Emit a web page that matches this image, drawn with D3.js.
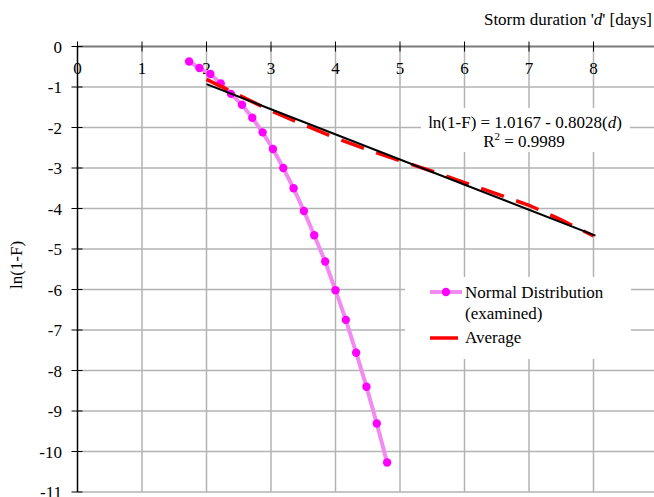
<!DOCTYPE html>
<html><head><meta charset="utf-8">
<script src="https://cdn.jsdelivr.net/npm/d3@7"></script>
<style>
html,body{margin:0;padding:0;background:#fff;}
svg{display:block;font-family:"Liberation Serif","Times New Roman",serif;}
</style></head>
<body><svg id="c" width="654" height="497"></svg>
<script>
// ---- data ----
const xTicks = [0,1,2,3,4,5,6,7,8];
const yTicks = [0,-1,-2,-3,-4,-5,-6,-7,-8,-9,-10,-11];
const normalD = [1.73,1.89,2.06,2.22,2.38,2.55,2.71,2.87,3.03,3.19,3.35,3.51,3.67,3.84,4.00,4.16,4.32,4.48,4.64,4.80];
const normalLn = [-0.37,-0.53,-0.68,-0.91,-1.17,-1.44,-1.76,-2.12,-2.53,-3.00,-3.50,-4.06,-4.66,-5.31,-6.02,-6.75,-7.56,-8.40,-9.31,-10.27];
const avgD = [2.0,2.5,3.0,3.5,4.0,4.5,5.0,5.5,6.0,6.5,7.0,7.5,8.0];
const avgLn = [-0.81,-1.20,-1.59,-1.93,-2.26,-2.55,-2.82,-3.08,-3.36,-3.64,-3.92,-4.28,-4.68];
const trendD = [2.0,8.03];
const trendLn = [-0.93,-4.67];
const eqText = "ln(1-F) = 1.0167 - 0.8028(";
const r2Text = " = 0.9989";
const seriesNames = ["Normal Distribution","(examined)","Average"];

const svg = d3.select("#c");
const x = d3.scaleLinear().domain([0,9]).range([77.5,658]);
const y = d3.scaleLinear().domain([0,-11]).range([46.5,492]);
const FS = 17;

// gridlines
const grid = svg.append("g");
grid.selectAll(".h").data(yTicks.filter(v=>v!==0)).enter().append("line")
  .attr("x1",x(0)).attr("x2",654).attr("y1",d=>y(d)).attr("y2",d=>y(d))
  .attr("stroke","#b3b3b3").attr("stroke-width",1.5);
grid.selectAll(".v").data(xTicks.filter(v=>v!==0)).enter().append("line")
  .attr("x1",d=>x(d)).attr("x2",d=>x(d)).attr("y1",y(0)).attr("y2",y(-11))
  .attr("stroke","#b3b3b3").attr("stroke-width",1.5);

// equation box (white)
svg.append("rect").attr("x",421).attr("y",108).attr("width",209).attr("height",44).attr("fill","#fff");
// legend box (white)
svg.append("rect").attr("x",405).attr("y",277).attr("width",226).attr("height",82).attr("fill","#fff");

// x axis line (at y=0)
svg.append("line").attr("x1",x(0)).attr("x2",654).attr("y1",y(0)).attr("y2",y(0))
  .attr("stroke","#7a7a7a").attr("stroke-width",2);
// y axis
svg.append("line").attr("x1",x(0)).attr("x2",x(0)).attr("y1",y(0)).attr("y2",y(-11))
  .attr("stroke","#000").attr("stroke-width",1.5);

// x ticks
const xa = svg.append("g");
xa.selectAll("line").data(xTicks).enter().append("line")
  .attr("x1",d=>x(d)).attr("x2",d=>x(d)).attr("y1",y(0)-5).attr("y2",y(0)+5)
  .attr("stroke","#000").attr("stroke-width",1);
xa.selectAll("text").data(xTicks).enter().append("text")
  .attr("x",d=>x(d)).attr("y",y(0)+27).attr("text-anchor","middle")
  .attr("font-size",FS).text(d=>d);
// y ticks
const ya = svg.append("g");
ya.selectAll("line").data(yTicks).enter().append("line")
  .attr("x1",x(0)-6).attr("x2",x(0)+5).attr("y1",d=>y(d)).attr("y2",d=>y(d))
  .attr("stroke","#000").attr("stroke-width",1);
ya.selectAll("text").data(yTicks).enter().append("text")
  .attr("x",62).attr("y",d=>y(d)+6).attr("text-anchor","end")
  .attr("font-size",FS).text(d=>d);

// axis titles
const t = svg.append("text").attr("x",652).attr("y",25).attr("text-anchor","end").attr("font-size",FS);
t.append("tspan").text("Storm duration '");
t.append("tspan").attr("font-style","italic").text("d");
t.append("tspan").text("' [days]");
svg.append("text").attr("transform","translate(22,265) rotate(-90)").attr("text-anchor","middle")
  .attr("font-size",FS).text("ln(1-F)");

// magenta series
const normal = normalD.map((d,i)=>[d,normalLn[i]]);
const line = d3.line().x(d=>x(d[0])).y(d=>y(d[1]));
svg.append("path").attr("d",line(normal)).attr("fill","none")
  .attr("stroke","#f28af2").attr("stroke-width",4);
svg.selectAll(".pt").data(normal).enter().append("circle")
  .attr("cx",d=>x(d[0])).attr("cy",d=>y(d[1])).attr("r",4.2).attr("fill","#ff00ff");

// average series (red dashed)
const avg = avgD.map((d,i)=>[d,avgLn[i]]);
svg.append("path").attr("d",line(avg)).attr("fill","none")
  .attr("stroke","#ff0000").attr("stroke-width",3.5).attr("stroke-dasharray","24,13");

// trend line
const trend = trendD.map((d,i)=>[d,trendLn[i]]);
svg.append("path").attr("d",line(trend)).attr("fill","none")
  .attr("stroke","#000").attr("stroke-width",2);

// equation text
const e1 = svg.append("text").attr("x",525).attr("y",128).attr("text-anchor","middle").attr("font-size",FS);
e1.append("tspan").text(eqText);
e1.append("tspan").attr("font-style","italic").text("d");
e1.append("tspan").text(")");
const e2 = svg.append("text").attr("x",524).attr("y",147).attr("text-anchor","middle").attr("font-size",FS);
e2.append("tspan").text("R");
e2.append("tspan").attr("font-size",11).attr("dy",-7).text("2");
e2.append("tspan").attr("dy",7).text(r2Text);

// legend
const lg = svg.append("g");
lg.append("line").attr("x1",430).attr("x2",462).attr("y1",292).attr("y2",292)
  .attr("stroke","#f28af2").attr("stroke-width",4);
lg.append("circle").attr("cx",446).attr("cy",292).attr("r",4.2).attr("fill","#ff00ff");
lg.append("text").attr("x",465).attr("y",298).attr("font-size",FS).text(seriesNames[0]);
lg.append("text").attr("x",465).attr("y",319).attr("font-size",FS).text(seriesNames[1]);
lg.append("line").attr("x1",430).attr("x2",458).attr("y1",338).attr("y2",338)
  .attr("stroke","#ff0000").attr("stroke-width",3.5);
lg.append("text").attr("x",465).attr("y",343).attr("font-size",FS).text(seriesNames[2]);
</script></body></html>
